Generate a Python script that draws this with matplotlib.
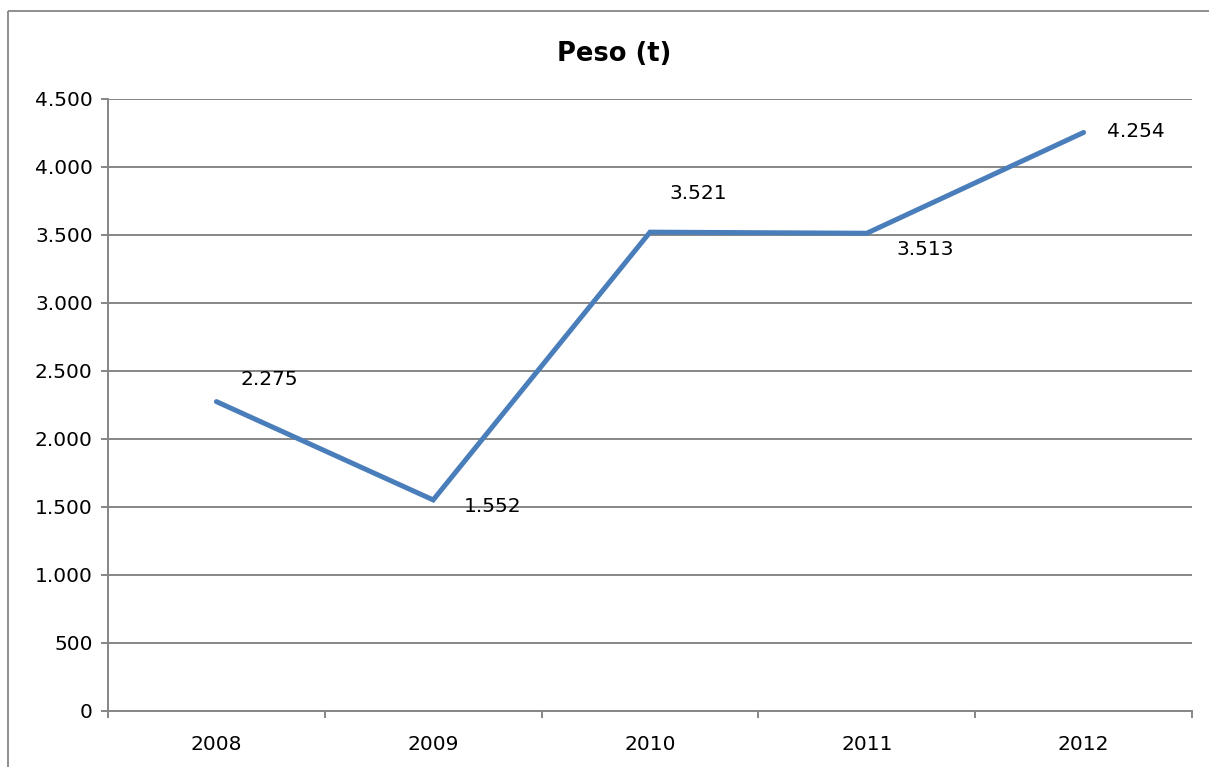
import matplotlib
matplotlib.use("Agg")
from matplotlib import pyplot as plt
from matplotlib.lines import Line2D
from matplotlib.ticker import FuncFormatter, FixedLocator

years = ['2008', '2009', '2010', '2011', '2012']
peso = [2275, 1552, 3521, 3513, 4254]
# label offsets in points (dx, dy) to mimic the Excel placement
label_offsets = [(17, 16), (22, -5), (14, 28), (21, -12), (17, 1)]

gray = '#868686'

fig = plt.figure(figsize=(12.09, 7.67), dpi=100)
# chart-area frame: only top and left edges are inside the picture
fx, fy = 8 / 1209, 1 - 11 / 767
fig.add_artist(Line2D([fx, fx], [0, fy], transform=fig.transFigure,
                      color=gray, linewidth=1.3, solid_capstyle='butt'))
fig.add_artist(Line2D([fx, 1.0], [fy, fy], transform=fig.transFigure,
                      color=gray, linewidth=1.3, solid_capstyle='butt'))

ax = fig.add_axes([108 / 1209, 1 - 711 / 767, (1192 - 108) / 1209, (711 - 99) / 767])
x = list(range(len(years)))
ax.plot(x, peso, color='#4a7ebb', linewidth=3.6, solid_capstyle='round',
        solid_joinstyle='miter', zorder=3)

def fmt(v):
    return f"{v:,.0f}".replace(',', '.')

for i, v in enumerate(peso):
    dx, dy = label_offsets[i]
    ax.annotate(fmt(v), (i, v), xytext=(dx, dy), textcoords='offset points',
                ha='left', va='center', fontsize=14.5)

ax.set_xlim(-0.5, len(years) - 0.5)
ax.set_ylim(0, 4500)
ax.yaxis.set_major_locator(FixedLocator(range(0, 4501, 500)))
ax.yaxis.set_major_formatter(FuncFormatter(lambda v, p: fmt(v)))
ax.grid(axis='y', color=gray, linewidth=1.4)
ax.set_axisbelow(True)

ax.set_xticks(x)
ax.set_xticklabels(years)
ax.set_xticks([i - 0.5 for i in range(len(years) + 1)], minor=True)
ax.tick_params(axis='x', which='major', length=0, labelsize=14.5, pad=17)
ax.tick_params(axis='x', which='minor', length=5, color=gray, width=1.4)
ax.tick_params(axis='y', length=5, color=gray, width=1.4, labelsize=14.5, pad=6)

for s in ['top', 'right']:
    ax.spines[s].set_visible(False)
for s in ['left', 'bottom']:
    ax.spines[s].set_color(gray)
    ax.spines[s].set_linewidth(1.4)

fig.text((557 + 672) / 2 / 1209, 1 - 54 / 767, 'Peso (t)', ha='center', va='center',
         fontsize=18.5, fontweight='bold')

fig.savefig('out.png', dpi=100)
